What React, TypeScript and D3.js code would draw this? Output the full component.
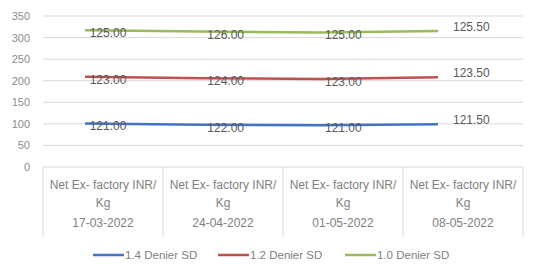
import React from 'react';
import * as d3 from 'd3';

const categories = ['17-03-2022', '24-04-2022', '01-05-2022', '08-05-2022'];
const categoryTitle = ['Net Ex- factory INR/', 'Kg'];
const seriesNames = ['1.4 Denier SD', '1.2 Denier SD', '1.0 Denier SD'];
const seriesColors = ['#4472C4', '#C0504D', '#9BBB59'];
// plotted height of each line
const blueLine = [101, 98, 97, 99];
const redLine = [209, 206, 204, 208];
const greenLine = [317, 314, 312, 315];
// price labels shown on the points
const blueLabels = [121.0, 122.0, 121.0, 121.5];
const redLabels = [123.0, 124.0, 123.0, 123.5];
const greenLabels = [125.0, 126.0, 125.0, 125.5];
const yTicks = [0, 50, 100, 150, 200, 250, 300, 350];

const W = 533;
const H = 265;
const font = '"Liberation Sans", Arial, sans-serif';

export default function App() {
  const y = d3.scaleLinear().domain([0, 350]).range([167, 16]);
  const xBand = d3.scaleBand().domain(categories).range([43, 523]);
  const xLine = d3.scalePoint().domain(categories).range([85, 438]);

  const lines = [blueLine, redLine, greenLine];
  const labels = [blueLabels, redLabels, greenLabels];

  const line = d3
    .line<number>()
    .x((d, i) => xLine(categories[i]) as number)
    .y((d) => y(d));

  const legendX = [93, 218, 345];

  return (
    <svg
      width={W}
      height={H}
      style={{ position: 'absolute', left: 0, top: 0, background: '#fff' }}
      fontFamily={font}
    >
      {yTicks.map((t) => (
        <g key={t}>
          <line x1={43} x2={523} y1={y(t)} y2={y(t)} stroke="#d9d9d9" strokeWidth={1} />
          <text x={30} y={y(t) + 4} textAnchor="end" fontSize={11} fill="#8c8c8c">
            {t}
          </text>
        </g>
      ))}

      {/* category table */}
      {[43, ...categories.map((c) => (xBand(c) as number) + xBand.bandwidth())].map((x, i) => (
        <line key={i} x1={x} x2={x} y1={167} y2={236} stroke="#d9d9d9" />
      ))}
      {categories.map((c) => {
        const cx = (xBand(c) as number) + xBand.bandwidth() / 2;
        return (
          <g key={c} fontSize={12} fill="#808080" textAnchor="middle">
            <text x={cx} y={189}>{categoryTitle[0]}</text>
            <text x={cx} y={207}>{categoryTitle[1]}</text>
            <text x={cx} y={227}>{c}</text>
          </g>
        );
      })}

      {lines.map((vals, s) => (
        <path key={s} d={line(vals) || ''} fill="none" stroke={seriesColors[s]} strokeWidth={2.5} />
      ))}

      {labels.map((vals, s) =>
        vals.map((v, i) => {
          const px = xLine(categories[i]) as number;
          const last = i === categories.length - 1;
          return (
            <text
              key={s + '-' + i}
              x={last ? px + 15 : px + 23}
              y={last ? y(lines[s][i]) : y(lines[s][i]) + 7}
              textAnchor={last ? 'start' : 'middle'}
              fontSize={12}
              fill="#595959"
            >
              {v.toFixed(2)}
            </text>
          );
        })
      )}

      {seriesNames.map((n, s) => (
        <g key={n}>
          <line x1={legendX[s]} x2={legendX[s] + 31} y1={255} y2={255} stroke={seriesColors[s]} strokeWidth={2.5} />
          <text x={legendX[s] + 32} y={259} fontSize={11.5} fill="#808080">
            {n}
          </text>
        </g>
      ))}
    </svg>
  );
}
